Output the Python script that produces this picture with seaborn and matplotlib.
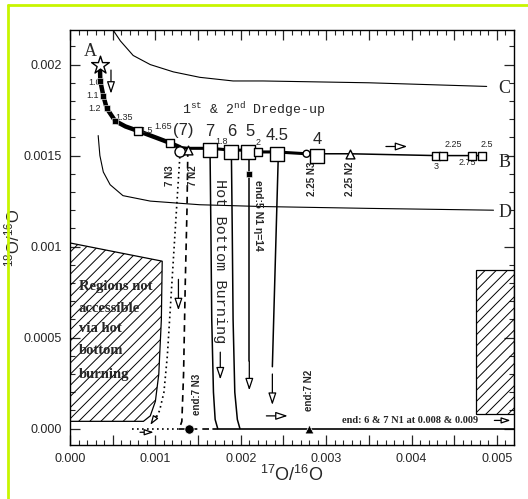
import matplotlib
matplotlib.use("Agg")
import matplotlib.pyplot as plt
import seaborn as sns
from matplotlib.patches import Polygon, Rectangle
from matplotlib.lines import Line2D
from matplotlib.ticker import MultipleLocator

# ---------------- data ----------------
track_x = [0.00035, 0.000355, 0.00039, 0.00043, 0.00053, 0.00065, 0.0008, 0.001, 0.00117, 0.00129,
           0.00138, 0.00164, 0.00189, 0.00209, 0.0022, 0.00242, 0.00277, 0.00289, 0.00328, 0.00429,
           0.00437, 0.00471, 0.00483]
track_y = [0.00200, 0.00191, 0.00183, 0.00176, 0.00169, 0.00166, 0.001635, 0.0016, 0.00157, 0.001545,
           0.00154, 0.00154, 0.00153, 0.00153, 0.00152, 0.00152, 0.00151, 0.00151, 0.00151, 0.0015,
           0.0015, 0.0015, 0.0015]

big_sq_x = [0.00164, 0.00189, 0.00209, 0.00242, 0.00289]
big_sq_y = [0.00153, 0.00152, 0.00152, 0.00151, 0.0015]
big_sq_lab = ["7", "6", "5", "4.5", "4"]
big_lab_x = [0.00164, 0.0019, 0.00211, 0.00242, 0.00289]
big_lab_y = [0.00163, 0.00163, 0.00163, 0.00161, 0.00159]

small_sq_x = [0.0008, 0.00117, 0.0022, 0.00429, 0.00437, 0.00471, 0.00483]
small_sq_y = [0.001635, 0.00157, 0.00152, 0.0015, 0.0015, 0.0015, 0.0015]
filled_sq_x = [0.000355, 0.00039, 0.00043, 0.00053]
filled_sq_y = [0.00191, 0.00183, 0.00176, 0.00169]

small_lab = ["1.0", "1.1", "1.2", "1.35", "1.5", "1.65", "1.8", "2", "2.25", "3", "2.75", "2.5"]
small_lab_x = [0.00029, 0.00026, 0.00029, 0.00063, 0.0009, 0.00109, 0.00178, 0.0022, 0.00449, 0.00429, 0.00465, 0.00488]
small_lab_y = [0.0019, 0.00183, 0.00176, 0.00171, 0.00164, 0.00166, 0.00158, 0.00157, 0.00156, 0.00144, 0.00146, 0.00156]

t7_x = [0.00164, 0.00165, 0.00166, 0.00168, 0.0017, 0.00173]
t7_y = [0.00153, 0.0011, 0.0006, 0.0002, 0.00005, 0.0]
t6_x = [0.00189, 0.0019, 0.00191, 0.00193, 0.00196, 0.00199]
t6_y = [0.00152, 0.0011, 0.0006, 0.0002, 0.00005, 0.0]
t5_x = [0.0021, 0.0021]
t5_y = [0.00152, 0.00037]
t45_x = [0.00244, 0.00237]
t45_y = [0.00151, 0.00034]

n3_x = [0.00129, 0.00126, 0.00122, 0.00118, 0.00114, 0.0011, 0.00105, 0.00101]
n3_y = [0.00152, 0.0013, 0.001, 0.0007, 0.0004, 0.0002, 0.0001, 0.00006]
n2_x = [0.00138, 0.00137, 0.00135, 0.00133, 0.00131, 0.00128]
n2_y = [0.00153, 0.0012, 0.0008, 0.0003, 0.00004, 0.0]

C_x = [0.00049, 0.00059, 0.00074, 0.00094, 0.00121, 0.00152, 0.00191, 0.00226, 0.0035, 0.00488]
C_y = [0.0022, 0.00213, 0.00205, 0.002, 0.00196, 0.00193, 0.00191, 0.00191, 0.0019, 0.00188]
D_x = [0.00033, 0.00035, 0.00039, 0.00047, 0.00062, 0.00094, 0.00152, 0.00226, 0.0035, 0.00496]
D_y = [0.00161, 0.0015, 0.00141, 0.00134, 0.00128, 0.00125, 0.00123, 0.00122, 0.00121, 0.0012]

hatchL_x = [0, 0.00108, 0.00107, 0.00104, 0.001, 0.00094, 0.00086, 0]
hatchL_y = [0.00102, 0.00092, 0.0006, 0.0003, 0.00015, 0.00007, 0.00004, 0.00004]
hatchR_x = [0.00475, 0.0052]
hatchR_y = [0.00008, 0.00087]

x_ticks = [0.000, 0.0005, 0.001, 0.0015, 0.002, 0.0025, 0.003, 0.0035, 0.004, 0.0045, 0.005]
x_ticklabels = ["0.000", "", "0.001", "", "0.002", "", "0.003", "", "0.004", "", "0.005"]
y_ticks = [0.0, 0.0005, 0.001, 0.0015, 0.002]
y_ticklabels = ["0.000", "0.0005", "0.001", "0.0015", "0.002"]

# ---------------- figure ----------------
sns.set_theme(style="ticks")
plt.rcParams["font.family"] = ["Liberation Sans", "DejaVu Sans"]
plt.rcParams["hatch.linewidth"] = 0.7

fig = plt.figure(figsize=(5.28, 4.99), dpi=100)
ax = fig.add_axes([70/528, 1-445/499, (514-70)/528, (445-30)/499])
ax.set_xlim(0, 0.0052)
ax.set_ylim(-0.00009, 0.00219)

K = "black"
sns.lineplot(x=C_x, y=C_y, sort=False, estimator=None, color=K, lw=0.8, ax=ax)
sns.lineplot(x=D_x, y=D_y, sort=False, estimator=None, color=K, lw=0.8, ax=ax)

sns.lineplot(x=track_x[:10], y=track_y[:10], sort=False, estimator=None, color=K, lw=3.2, ax=ax)
sns.lineplot(x=track_x[9:18], y=track_y[9:18], sort=False, estimator=None, color=K, lw=2.2, ax=ax)
sns.lineplot(x=track_x[17:], y=track_y[17:], sort=False, estimator=None, color=K, lw=1.1, ax=ax)

for tx, ty in [(t7_x, t7_y), (t6_x, t6_y), (t5_x, t5_y), (t45_x, t45_y)]:
    sns.lineplot(x=tx, y=ty, sort=False, estimator=None, color=K, lw=1.1, ax=ax)
sns.lineplot(x=n3_x, y=n3_y, sort=False, estimator=None, color=K, lw=1.2, linestyle=(0, (1, 2)), ax=ax)
sns.lineplot(x=n2_x, y=n2_y, sort=False, estimator=None, color=K, lw=1.2, linestyle=(0, (4, 3)), ax=ax)

sns.lineplot(x=[0.00073, 0.00128], y=[0, 0], color=K, lw=1.2, linestyle=(0, (1, 2)), ax=ax)
sns.lineplot(x=[0.00128, 0.00168], y=[0, 0], color=K, lw=1.2, linestyle=(0, (4, 3)), ax=ax)
sns.lineplot(x=[0.00168, 0.0052], y=[0, 0], color=K, lw=1.2, ax=ax)

sns.scatterplot(x=big_sq_x, y=big_sq_y, marker="s", s=95, facecolor="white", edgecolor=K, linewidth=1.0, zorder=5, ax=ax)
sns.scatterplot(x=small_sq_x, y=small_sq_y, marker="s", s=40, facecolor="white", edgecolor=K, linewidth=1.0, zorder=5, ax=ax)
sns.scatterplot(x=filled_sq_x, y=filled_sq_y, marker="s", s=25, color=K, zorder=5, ax=ax)
sns.scatterplot(x=[0.00035], y=[0.00200], marker="*", s=180, facecolor="white", edgecolor=K, linewidth=1.0, zorder=6, ax=ax)
sns.scatterplot(x=[0.00129, 0.00277], y=[0.00152, 0.00151], marker="o", s=[55, 25], facecolor="white", edgecolor=K, linewidth=1.0, zorder=6, legend=False, ax=ax)
sns.scatterplot(x=[0.00138, 0.00328], y=[0.00153, 0.00151], marker="^", s=40, facecolor="white", edgecolor=K, linewidth=1.0, zorder=6, ax=ax)
sns.scatterplot(x=[0.00139], y=[0.0], marker="o", s=45, color=K, zorder=6, ax=ax)
sns.scatterplot(x=[0.0028], y=[0.0], marker="^", s=40, color=K, zorder=6, ax=ax)
sns.scatterplot(x=[0.0021], y=[0.0014], marker="s", s=25, color=K, zorder=6, ax=ax)

ax.add_patch(Polygon(list(zip(hatchL_x, hatchL_y)), closed=True, fill=False, hatch="///", ec=K, lw=0.9))
ax.add_patch(Rectangle((hatchR_x[0], hatchR_y[0]), hatchR_x[1]-hatchR_x[0], hatchR_y[1]-hatchR_y[0],
                       fill=False, hatch="///", ec=K, lw=0.9))

def arr(x0, y0, x1, y1, hl=0.6, hw=0.2):
    ax.annotate("", xy=(x1, y1), xytext=(x0, y0),
                arrowprops=dict(arrowstyle=f"-|>,head_length={hl},head_width={hw}", fc="white", ec=K,
                                lw=0.9, shrinkA=0, shrinkB=0))

arr(0.00048, 0.00197, 0.00048, 0.00184)
arr(0.0037, 0.00155, 0.00395, 0.00155)
arr(0.00127, 0.00082, 0.00127, 0.00065)
arr(0.0021, 0.00037, 0.0021, 0.00021)
arr(0.00237, 0.00030, 0.00237, 0.00013)
arr(0.0023, 0.00007, 0.00255, 0.00007)
arr(0.00082, -0.00002, 0.00098, -0.00002, 0.45, 0.15)
arr(0.00101, 0.00007, 0.00094, 0.00002, 0.45, 0.15)
arr(0.00176, 0.00042, 0.00176, 0.00027)
arr(0.00497, 0.000045, 0.00516, 0.000045, 0.45, 0.15)

serif = ["Liberation Serif", "DejaVu Serif"]
mono = ["Liberation Mono", "DejaVu Sans Mono"]
ax.text(0.00024, 0.00207, "A", family=serif, fontsize=13, ha="center", va="center")
ax.text(0.00502, 0.00146, "B", family=serif, fontsize=13, ha="left", va="center")
ax.text(0.00502, 0.00187, "C", family=serif, fontsize=13, ha="left", va="center")
ax.text(0.00502, 0.00119, "D", family=serif, fontsize=13, ha="left", va="center")

for t, x, y in zip(big_sq_lab, big_lab_x, big_lab_y):
    ax.text(x, y, t, fontsize=12, ha="center", va="center")
ax.text(0.00133, 0.00164, "(7)", fontsize=12, ha="center", va="center")
for t, x, y in zip(small_lab, small_lab_x, small_lab_y):
    ax.text(x, y, t, fontsize=6.5, ha="center", va="center")

ax.text(0.00131, 0.00175, r"1$\mathregular{^{st}}$ & 2$\mathregular{^{nd}}$ Dredge-up",
        family=mono, fontsize=9.5, ha="left", va="center")
ax.text(0.00176, 0.00092, "Hot Bottom Burning", family=mono, fontsize=11, rotation=-90,
        ha="center", va="center")
ax.text(0.0022, 0.00117, "end:5 N1 \u03b7=14", fontsize=7.5, weight="bold", rotation=-90,
        ha="center", va="center")
ax.text(0.00117, 0.00139, "7 N3", fontsize=7, weight="bold", rotation=90, ha="center", va="center")
ax.text(0.00144, 0.00139, "7 N2", fontsize=7, weight="bold", rotation=90, ha="center", va="center")
ax.text(0.00283, 0.00137, "2.25 N3", fontsize=7, weight="bold", rotation=90, ha="center", va="center")
ax.text(0.00328, 0.00137, "2.25 N2", fontsize=7, weight="bold", rotation=90, ha="center", va="center")
ax.text(0.00149, 0.00019, "end:7 N3", fontsize=7, weight="bold", rotation=90, ha="center", va="center")
ax.text(0.0028, 0.00021, "end:7 N2", fontsize=7, weight="bold", rotation=90, ha="center", va="center")
ax.text(0.00318, 0.000045, "end: 6 & 7 N1 at 0.008 & 0.009", family=serif, fontsize=7.5,
        weight="bold", ha="left", va="center")

reg_lines = ["Regions not", "accessible", "via hot", "bottom", "burning"]
reg_y = [0.00078, 0.00066, 0.00055, 0.00043, 0.0003]
for t, y in zip(reg_lines, reg_y):
    ax.text(0.0001, y, t, family=serif, fontsize=10.5, weight="bold", ha="left", va="center")

ax.set_xticks(x_ticks)
ax.set_xticklabels(x_ticklabels)
ax.set_yticks(y_ticks)
ax.set_yticklabels(y_ticklabels)
ax.xaxis.set_minor_locator(MultipleLocator(0.0001))
ax.yaxis.set_minor_locator(MultipleLocator(0.0001))
ax.tick_params(which="major", direction="in", length=7, width=0.9, top=True, right=True,
               labelsize=9, pad=6)
ax.tick_params(which="minor", direction="in", length=3.5, width=0.8, top=True, right=True)
for sp in ax.spines.values():
    sp.set_linewidth(1.0)
    sp.set_color(K)
ax.set_xlabel(r"$\mathregular{^{17}O/^{16}O}$", fontsize=13, labelpad=0)
ax.set_ylabel(r"$\mathregular{^{18}O/^{16}O}$", fontsize=12, labelpad=1)

fig.add_artist(Line2D([8/528, 1.0], [1-5/499, 1-5/499], color="#c8f500", lw=2, transform=fig.transFigure))
fig.add_artist(Line2D([8/528, 8/528], [0, 1-5/499], color="#c8f500", lw=2, transform=fig.transFigure))

fig.savefig("out.png", dpi=100, facecolor="white")
